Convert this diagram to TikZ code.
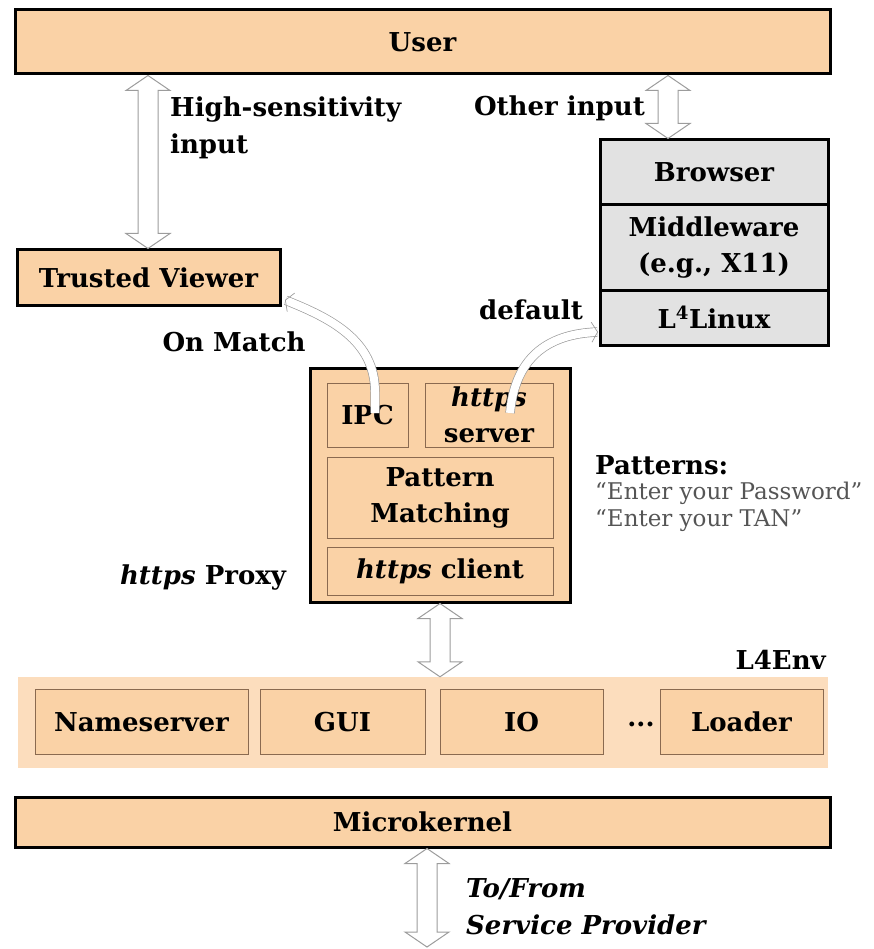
\documentclass[tikz,border=0pt]{standalone}
\usepackage{fontspec}
\setmainfont{DejaVu Serif}
\usetikzlibrary{arrows.meta,calc}

\definecolor{peach}{HTML}{FAD2A6}
\definecolor{peachlight}{HTML}{FCDDBD}
\definecolor{panel}{HTML}{E2E2E2}
\definecolor{arrowgray}{HTML}{9C9C9C}
\definecolor{subline}{HTML}{8A6A50}
\definecolor{patgray}{HTML}{555555}

\tikzset{
  txt/.style={font=\bfseries\fontsize{26}{36}\selectfont, align=center, inner sep=0pt},
  box/.style={txt, draw=black, line width=3pt, fill=peach},
  subbox/.style={txt, draw=subline, line width=1pt, fill=peach},
  greybox/.style={txt, draw=black, line width=3pt, fill=panel},
  lbl/.style={font=\bfseries\fontsize{26}{37}\selectfont, inner sep=0pt, align=left},
  harrow/.style={draw=arrowgray, line width=1pt, fill=white},
  thinarrow/.style={draw=arrowgray, line width=0.7pt, double=white, double distance=8pt,
    -{Straight Barb[length=6pt, width=20pt, line width=0.7pt]}},
}

% hollow double-headed vertical arrow between two coordinates (top, bottom)
\newcommand{\hollowdarrow}[2]{%
  \draw[harrow] let \p1=(#1), \p2=(#2) in
    (\x1,\y1) -- (\x1+22pt,\y1-15pt) -- (\x1+10pt,\y1-15pt) --
    (\x1+10pt,\y2+15pt) -- (\x1+22pt,\y2+15pt) -- (\x1,\y2) --
    (\x1-22pt,\y2+15pt) -- (\x1-10pt,\y2+15pt) -- (\x1-10pt,\y1-15pt) --
    (\x1-22pt,\y1-15pt) -- cycle;}

\begin{document}
\begin{tikzpicture}[x=1pt, y=-1pt]
  \useasboundingbox (0,0) rectangle (873,949);

  % top layer
  \node[box, minimum width=815, minimum height=64] (user) at (422.5,42) {User};

  % legacy stack
  \node[greybox, minimum width=228, minimum height=65] (browser) at (714,172.5) {Browser};
  \node[greybox, minimum width=228, minimum height=85] (mw) at (714,247.5) {Middleware\\(e.g., X11)};
  \node[greybox, minimum width=228, minimum height=55] (l4l) at (714,317.5) {L\textsuperscript{4}Linux};

  \node[box, minimum width=263, minimum height=55] (tv) at (148.5,277.5) {Trusted Viewer};

  % https proxy
  \node[box, minimum width=260, minimum height=234] (proxy) at (440,485) {};
  \node[subbox, minimum width=81, minimum height=64] (ipc) at (367.5,415) {IPC};
  \node[subbox, minimum width=128, minimum height=64] (srv) at (489,415) {\textit{https}\\server};
  \node[subbox, minimum width=226, minimum height=81] (pm) at (440,497.5) {Pattern\\Matching};
  \node[subbox, minimum width=226, minimum height=48] (cli) at (440,571) {\textit{https} client};

  % L4Env band
  \node[fill=peachlight, minimum width=810, minimum height=91, inner sep=0pt] (env) at (423,722.5) {};
  \node[subbox, minimum width=213, minimum height=65] (ns) at (141.5,722) {Nameserver};
  \node[subbox, minimum width=165, minimum height=65] (gui) at (342.5,722) {GUI};
  \node[subbox, minimum width=163, minimum height=65] (io) at (521.5,722) {IO};
  \node[txt] (dots) at (641,724) {...};
  \node[subbox, minimum width=163, minimum height=65] (ldr) at (741.5,722) {Loader};
  \node[lbl, anchor=east] (envl) at (826,660) {L4Env};

  % microkernel
  \node[box, minimum width=815, minimum height=50] (mk) at (422.5,822) {Microkernel};

  % big hollow arrows
  \coordinate (a1t) at (user.south -| 148,0);
  \coordinate (a1b) at (tv.north -| 148,0);
  \hollowdarrow{a1t}{a1b}
  \coordinate (a2t) at (user.south -| 668,0);
  \coordinate (a2b) at (browser.north -| 668,0);
  \hollowdarrow{a2t}{a2b}
  \coordinate (a3t) at (proxy.south -| 440,0);
  \coordinate (a3b) at (env.north -| 440,0);
  \hollowdarrow{a3t}{a3b}
  \coordinate (a4t) at (mk.south -| 427,0);
  \coordinate (a4b) at (427,947);
  \hollowdarrow{a4t}{a4b}

  % thin curved arrows out of the proxy
  \coordinate (ipcin) at (375,413);
  \coordinate (tvend) at (285,300);
  \draw[thinarrow] (ipcin) -- (375,392) .. controls (375,340) and (330,318) .. (tvend);
  \coordinate (srvin) at (510,413);
  \coordinate (l4end) at (598,332);
  \draw[thinarrow] (srvin) .. controls (515,360) and (545,334) .. (l4end);

  % labels
  \node[lbl, anchor=north west] (hs) at (170,97) {High-sensitivity\\input};
  \node[lbl, anchor=east] (oi) at (645,108) {Other input};
  \node[lbl] (om) at (234,342) {On Match};
  \node[lbl] (df) at (531,310) {default};
  \node[lbl] (hp) at (203,578) {\textit{https} Proxy};
  \node[lbl, anchor=west] (pat) at (595,465) {Patterns:};
  \node[font=\fontsize{23}{27}\selectfont, text=patgray, anchor=north west, align=left, inner sep=0pt]
    (patl) at (595,482) {``Enter your Password''\\``Enter your TAN''};
  \node[font=\bfseries\itshape\fontsize{26}{37}\selectfont, anchor=north west, align=left, inner sep=0pt]
    (sp) at (466,878) {To/From\\Service Provider};
\end{tikzpicture}
\end{document}
